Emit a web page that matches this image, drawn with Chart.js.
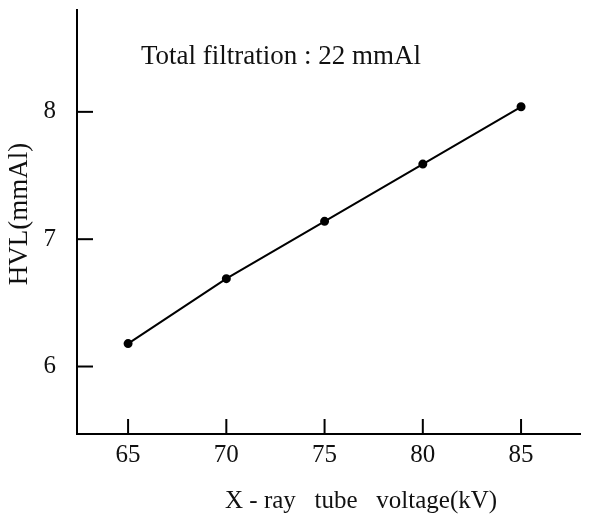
<!DOCTYPE html>
<html>
<head>
<meta charset="utf-8">
<script src="https://cdn.jsdelivr.net/npm/chart.js@4"></script>
<style>
  html, body { margin: 0; padding: 0; background: #fff; }
  #wrap { width: 594px; height: 517px; }
</style>
</head>
<body>
<div id="wrap"><canvas id="hvlChart"></canvas></div>
<script>
// data
const voltage = [65, 70, 75, 80, 85];
const hvl = [6.18, 6.69, 7.14, 7.59, 8.04];
const xTicks = [65, 70, 75, 80, 85];
const yTicks = [6, 7, 8];
const note = 'Total filtration : 22 mmAl';
const xTitle = 'X - ray   tube   voltage(kV)';
const yTitle = 'HVL(mmAl)';

const serif = '"Liberation Serif", "Times New Roman", serif';

// inward ticks, the filtration note and the axis titles (placed like the paper figure)
const paperPlugin = {
  id: 'paper',
  afterDraw: (chart) => {
    const { ctx, chartArea, scales } = chart;
    ctx.save();
    ctx.strokeStyle = '#000';
    ctx.lineWidth = 2;
    xTicks.forEach(v => {
      const px = scales.x.getPixelForValue(v);
      ctx.beginPath();
      ctx.moveTo(px, chartArea.bottom);
      ctx.lineTo(px, chartArea.bottom - 15);
      ctx.stroke();
    });
    yTicks.forEach(v => {
      const py = scales.y.getPixelForValue(v);
      ctx.beginPath();
      ctx.moveTo(chartArea.left, py);
      ctx.lineTo(chartArea.left + 16, py);
      ctx.stroke();
    });

    ctx.fillStyle = '#111';
    ctx.textBaseline = 'alphabetic';
    ctx.textAlign = 'left';
    ctx.font = '27px ' + serif;
    ctx.fillText(note, 141, 64);

    ctx.font = '25px ' + serif;
    ctx.fillText(xTitle, 225, 508);

    ctx.translate(27, 214);
    ctx.rotate(-Math.PI / 2);
    ctx.textAlign = 'center';
    ctx.font = '27px ' + serif;
    ctx.fillText(yTitle, 0, 0);
    ctx.restore();
  }
};

new Chart(document.getElementById('hvlChart'), {
  type: 'scatter',
  data: {
    datasets: [{
      data: voltage.map((v, i) => ({ x: v, y: hvl[i] })),
      showLine: true,
      borderColor: '#000',
      backgroundColor: '#000',
      borderWidth: 2,
      pointRadius: 3.5,
      tension: 0
    }]
  },
  options: {
    responsive: true, maintainAspectRatio: false,
    animation: false,
    layout: { padding: { top: 10, right: 14, left: 0, bottom: 0 } },
    scales: {
      x: {
        type: 'linear', min: 62.4, max: 88,
        afterBuildTicks: s => { s.ticks = xTicks.map(v => ({ value: v })); },
        afterFit: s => { s.height = 83; s.paddingLeft = 0; s.paddingRight = 0; },
        grid: { display: false, drawTicks: false },
        border: { display: true, color: '#000', width: 2 },
        ticks: { color: '#111', padding: 6, maxRotation: 0, font: { family: serif, size: 25 } },
        title: { display: false }
      },
      y: {
        min: 5.47, max: 8.8,
        afterBuildTicks: s => { s.ticks = yTicks.map(v => ({ value: v })); },
        afterFit: s => { s.width = 77; s.paddingTop = 0; s.paddingBottom = 0; },
        grid: { display: false, drawTicks: false },
        border: { display: true, color: '#000', width: 2 },
        ticks: { color: '#111', padding: 21, font: { family: serif, size: 25 } },
        title: { display: false }
      }
    },
    plugins: { legend: { display: false }, tooltip: { enabled: false } }
  },
  plugins: [paperPlugin]
});
</script>
</body>
</html>
